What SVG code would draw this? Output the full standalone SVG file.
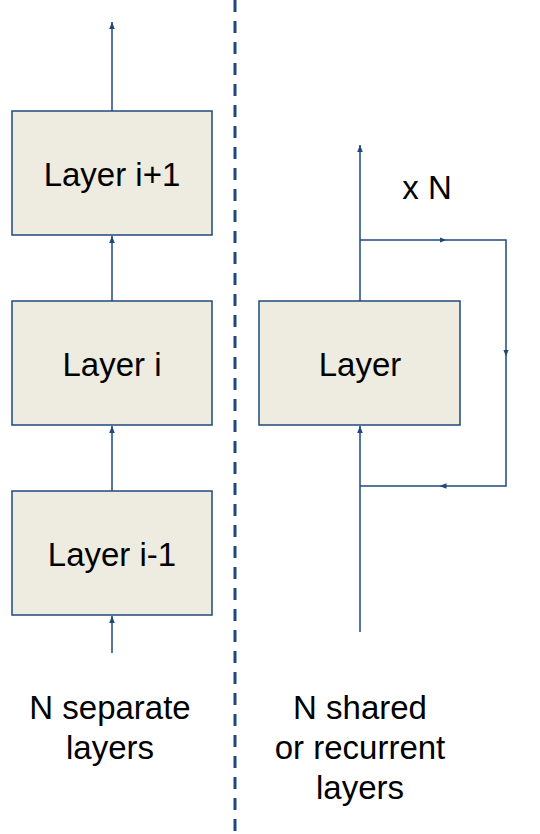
<svg xmlns="http://www.w3.org/2000/svg" width="540" height="834" viewBox="0 0 540 834">
<style>
.box{fill:#eeece1;stroke:#1f497d;stroke-width:1.5}
.c{stroke:#1f497d;stroke-width:1.5;fill:none}
.t{font-family:"Liberation Sans",Arial,sans-serif;font-size:33px;fill:#000;text-anchor:middle}
</style>
<defs>
<marker id="ah" viewBox="0 0 10 10" refX="10" refY="5" markerWidth="7" markerHeight="7" markerUnits="userSpaceOnUse" orient="auto"><path d="M0,1 L10,5 L0,9 z" fill="#1f497d"/></marker>
<marker id="mid" viewBox="0 0 10 10" refX="5" refY="5" markerWidth="7" markerHeight="7" markerUnits="userSpaceOnUse" orient="auto"><path d="M0,1 L10,5 L0,9 z" fill="#1f497d"/></marker>
</defs>
<rect width="540" height="834" fill="#fff"/>
<line x1="235" y1="0" x2="235" y2="834" stroke="#1f497d" stroke-width="3" stroke-dasharray="12 9"/>
<g id="connectors">
<line class="c" x1="112" y1="111" x2="112" y2="22" marker-end="url(#ah)"/>
<line class="c" x1="112" y1="301" x2="112" y2="236" marker-end="url(#ah)"/>
<line class="c" x1="112" y1="491" x2="112" y2="426" marker-end="url(#ah)"/>
<line class="c" x1="112" y1="653" x2="112" y2="616" marker-end="url(#ah)"/>
<line class="c" x1="360" y1="632" x2="360" y2="426" marker-end="url(#ah)"/>
<line class="c" x1="360" y1="301" x2="360" y2="145" marker-end="url(#ah)"/>
<path class="c" d="M360,240 L443,240" marker-end="url(#mid)"/>
<path class="c" d="M443,240 L506,240 L506,353" marker-end="url(#mid)"/>
<path class="c" d="M506,353 L506,486 L443,486" marker-end="url(#mid)"/>
<path class="c" d="M443,486 L360,486"/>
</g>
<g id="layer-ip1"><rect class="box" x="12" y="111" width="200" height="124"/><text class="t" x="112" y="186">Layer i+1</text></g>
<g id="layer-i"><rect class="box" x="12" y="301" width="200" height="124"/><text class="t" x="112" y="376">Layer i</text></g>
<g id="layer-im1"><rect class="box" x="12" y="491" width="200" height="124"/><text class="t" x="112" y="566">Layer i-1</text></g>
<g id="layer"><rect class="box" x="259" y="301" width="201" height="124"/><text class="t" x="360" y="376">Layer</text></g>
<g id="xn"><text class="t" x="427" y="199">x N</text></g>
<g id="label-left"><text class="t" x="110" y="719">N separate</text><text class="t" x="110" y="759">layers</text></g>
<g id="label-right"><text class="t" x="360" y="719">N shared</text><text class="t" x="360" y="759">or recurrent</text><text class="t" x="360" y="799">layers</text></g>
</svg>
